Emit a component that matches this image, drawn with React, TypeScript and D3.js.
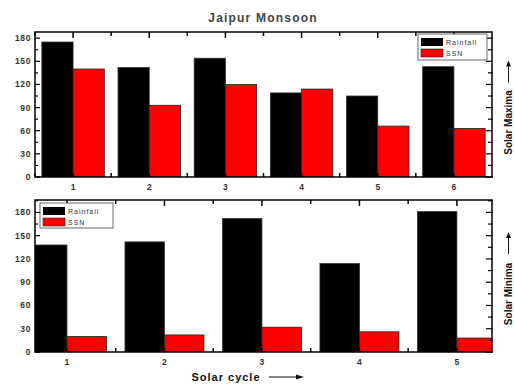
import React from 'react';
import * as d3 from 'd3';

const maxCycles = [1, 2, 3, 4, 5, 6];
const maxRainfall = [175, 142, 154, 109, 105, 143];
const maxSSN = [140, 93, 120, 114, 66, 63];

const minCycles = [1, 2, 3, 4, 5];
const minRainfall = [138, 142, 172, 114, 181];
const minSSN = [20, 22, 32, 26, 18];

const yTicks = [0, 30, 60, 90, 120, 150, 180];

const FONT = '"Liberation Sans", Arial, sans-serif';
const W = 514;
const H = 384;

interface PanelProps {
  id: string;
  cycles: number[];
  rainfall: number[];
  ssn: number[];
  top: number;
  bottom: number;
  xDomain: [number, number];
  yMax: number;
  barFrac: number;
  legend: { x: number; y: number; w: number; h: number };
  sideLabel: string;
}

const LEFT = 35;
const RIGHT = 492;

const Panel: React.FC<PanelProps> = ({ id, cycles, rainfall, ssn, top, bottom, xDomain, yMax, barFrac, legend, sideLabel }) => {
  const x = d3.scaleLinear().domain(xDomain).range([LEFT, RIGHT]);
  const y = d3.scaleLinear().domain([0, yMax]).range([bottom, top]);
  const bw = (x(2) - x(1)) * barFrac / 2;
  const minor = d3.range(0, yMax, 15);
  const halfTicks = d3.range(Math.ceil(xDomain[0] * 2) / 2, xDomain[1], 0.5);
  const clipId = `clip-${id}`;
  const mid = (top + bottom) / 2;

  return (
    <g>
      <defs>
        <clipPath id={clipId}>
          <rect x={LEFT} y={top} width={RIGHT - LEFT} height={bottom - top} />
        </clipPath>
      </defs>
      <g clipPath={`url(#${clipId})`}>
        {cycles.map((c, i) => (
          <g key={c}>
            <rect x={x(c) - bw} y={y(rainfall[i])} width={bw} height={y(0) - y(rainfall[i])} fill="#000" stroke="#333" strokeWidth={0.8} />
            <rect x={x(c)} y={y(ssn[i])} width={bw} height={y(0) - y(ssn[i])} fill="#f00" stroke="#222" strokeWidth={0.8} />
          </g>
        ))}
      </g>
      <rect x={LEFT} y={top} width={RIGHT - LEFT} height={bottom - top} fill="none" stroke="#000" strokeWidth={1.5} />
      {minor.map(v => (
        <g key={v}>
          <line x1={LEFT} x2={LEFT + (v % 30 === 0 ? 5 : 3)} y1={y(v)} y2={y(v)} stroke="#000" strokeWidth={1.2} />
          <line x1={RIGHT + 1} x2={RIGHT - (v % 30 === 0 ? 6 : 4)} y1={y(v)} y2={y(v)} stroke="#000" strokeWidth={1.2} />
        </g>
      ))}
      {halfTicks.map(v => (
        <g key={v}>
          <line x1={x(v)} x2={x(v)} y1={top} y2={top + (Number.isInteger(v) ? 6 : 4)} stroke="#000" strokeWidth={1.5} />
          <line x1={x(v)} x2={x(v)} y1={bottom} y2={bottom - 4} stroke="#000" strokeWidth={1.5} />
        </g>
      ))}
      {yTicks.map(v => (
        <text key={v} x={LEFT - 4} y={y(v)} dy="0.35em" textAnchor="end" fontSize={8.5} fontWeight={700} fill="#333" letterSpacing={0.6}>{v}</text>
      ))}
      {cycles.map(c => (
        <text key={c} x={x(c)} y={bottom + 13} textAnchor="middle" fontSize={8.5} fontWeight={700} fill="#333">{c}</text>
      ))}
      <rect x={legend.x} y={legend.y} width={legend.w} height={legend.h} fill="#fff" stroke="#444" strokeWidth={0.8} />
      <rect x={legend.x + 3} y={legend.y + 4} width={22} height={8} fill="#000" />
      <rect x={legend.x + 3} y={legend.y + 15} width={22} height={8} fill="#f00" stroke="#222" strokeWidth={0.6} />
      <text x={legend.x + 28} y={legend.y + 11} fontSize={7} fill="#333" letterSpacing={1}>Rainfall</text>
      <text x={legend.x + 28} y={legend.y + 22} fontSize={7} fill="#333" letterSpacing={1}>SSN</text>
      <g transform={`translate(${W - 2},${mid + 18}) rotate(-90)`}>
        <text x={0} y={0} textAnchor="middle" fontSize={10} fontWeight={700} fill="#111">{sideLabel}</text>
        <line x1={40} x2={56} y1={-3.5} y2={-3.5} stroke="#111" strokeWidth={1} />
        <path d="M56,-6 L62,-3.5 L56,-1 Z" fill="#111" />
      </g>
    </g>
  );
};

export default function App() {
  return (
    <svg width={W} height={H} style={{ position: 'absolute', left: 0, top: 0, background: '#fff' }} fontFamily={FONT}>
      <rect width={W} height={H} fill="#fff" />
      <text x={263} y={22} textAnchor="middle" fontSize={12} fontWeight={700} fill="#444" letterSpacing={1.2}>Jaipur Monsoon</text>
      <Panel
        id="max"
        cycles={maxCycles}
        rainfall={maxRainfall}
        ssn={maxSSN}
        top={32}
        bottom={177}
        xDomain={[0.5, 6.5]}
        yMax={188}
        barFrac={0.82}
        legend={{ x: 418, y: 34, w: 69, h: 26 }}
        sideLabel="Solar Maxima"
      />
      <Panel
        id="min"
        cycles={minCycles}
        rainfall={minRainfall}
        ssn={minSSN}
        top={200}
        bottom={352}
        xDomain={[0.672, 5.36]}
        yMax={196}
        barFrac={0.81}
        legend={{ x: 40, y: 203, w: 73, h: 25 }}
        sideLabel="Solar Minima"
      />
      <text x={226} y={381} textAnchor="middle" fontSize={11} fontWeight={700} fill="#111" letterSpacing={1}>Solar cycle</text>
      <line x1={269} x2={298} y1={377} y2={377} stroke="#111" strokeWidth={1} />
      <path d="M296,374.5 L304,377 L296,379.5 Z" fill="#111" />
    </svg>
  );
}
